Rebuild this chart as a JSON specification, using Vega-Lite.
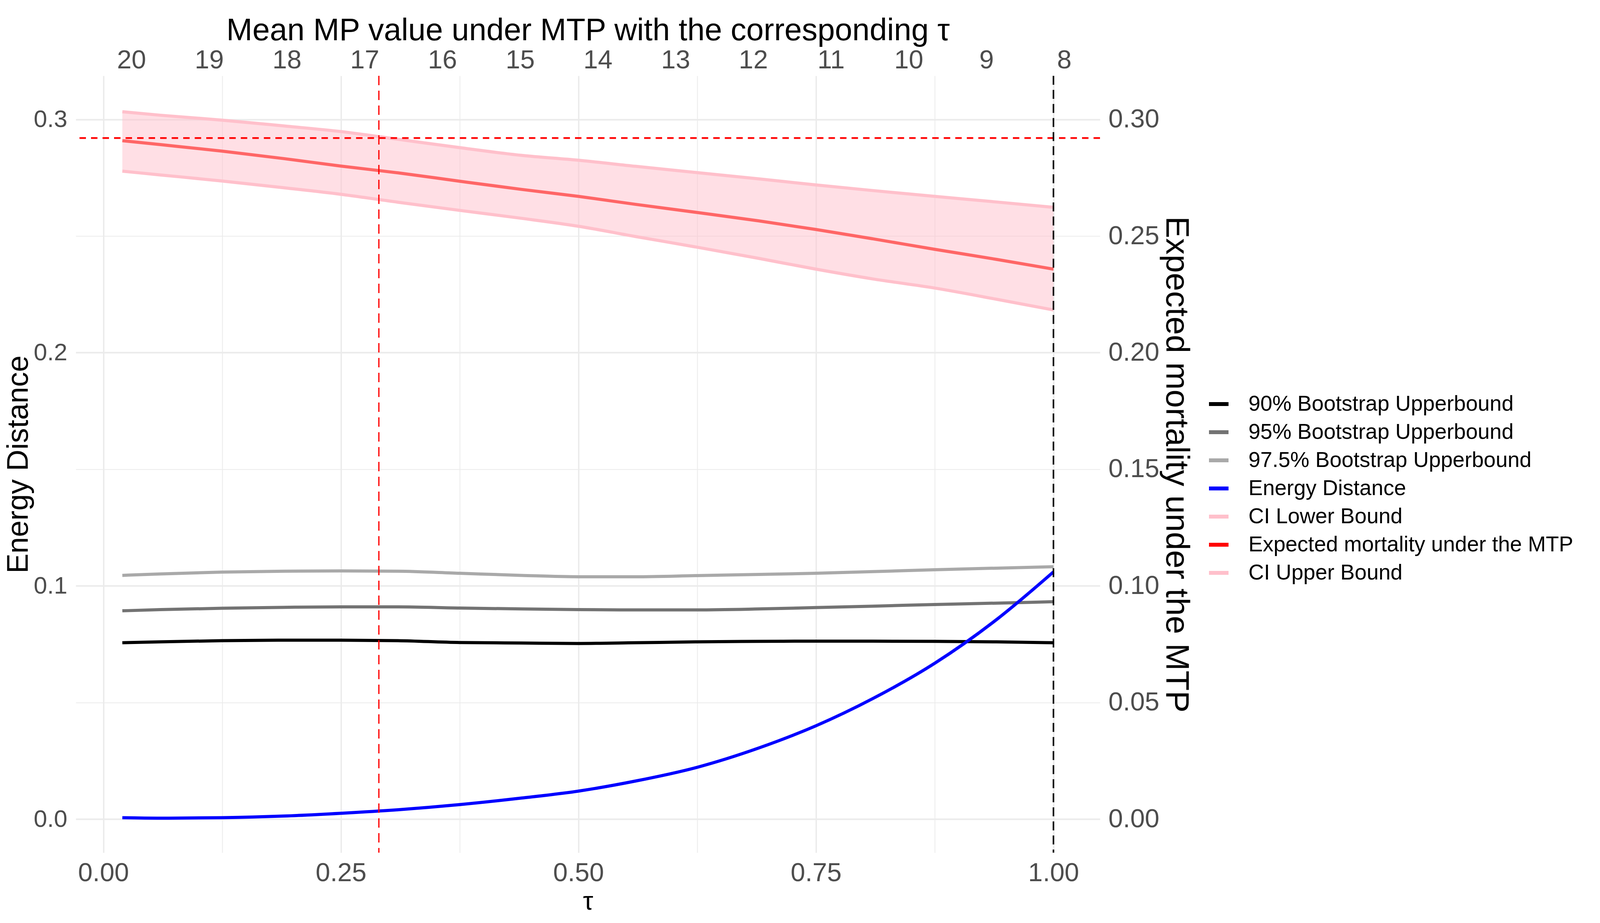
{
  "$schema": "https://vega.github.io/schema/vega-lite/v6.json",
  "width": 2622,
  "height": 1988,
  "autosize": {"type": "none"},
  "padding": {"left": 194, "top": 194, "right": 1280, "bottom": 180},
  "background": "white",
  "datasets": {
    "curves": [
      {"tau": 0.02, "s": "90% Bootstrap Upperbound", "v": 0.0756},
      {"tau": 0.06, "s": "90% Bootstrap Upperbound", "v": 0.0760},
      {"tau": 0.125, "s": "90% Bootstrap Upperbound", "v": 0.0765},
      {"tau": 0.19, "s": "90% Bootstrap Upperbound", "v": 0.0767},
      {"tau": 0.25, "s": "90% Bootstrap Upperbound", "v": 0.0767},
      {"tau": 0.31, "s": "90% Bootstrap Upperbound", "v": 0.0765},
      {"tau": 0.375, "s": "90% Bootstrap Upperbound", "v": 0.0757},
      {"tau": 0.44, "s": "90% Bootstrap Upperbound", "v": 0.0755},
      {"tau": 0.5, "s": "90% Bootstrap Upperbound", "v": 0.0753},
      {"tau": 0.56, "s": "90% Bootstrap Upperbound", "v": 0.0756},
      {"tau": 0.625, "s": "90% Bootstrap Upperbound", "v": 0.0760},
      {"tau": 0.69, "s": "90% Bootstrap Upperbound", "v": 0.0762},
      {"tau": 0.75, "s": "90% Bootstrap Upperbound", "v": 0.0763},
      {"tau": 0.81, "s": "90% Bootstrap Upperbound", "v": 0.0763},
      {"tau": 0.875, "s": "90% Bootstrap Upperbound", "v": 0.0762},
      {"tau": 0.94, "s": "90% Bootstrap Upperbound", "v": 0.0760},
      {"tau": 1.0, "s": "90% Bootstrap Upperbound", "v": 0.0756},
      {"tau": 0.02, "s": "95% Bootstrap Upperbound", "v": 0.0893},
      {"tau": 0.06, "s": "95% Bootstrap Upperbound", "v": 0.0898},
      {"tau": 0.125, "s": "95% Bootstrap Upperbound", "v": 0.0904},
      {"tau": 0.19, "s": "95% Bootstrap Upperbound", "v": 0.0908},
      {"tau": 0.25, "s": "95% Bootstrap Upperbound", "v": 0.0910},
      {"tau": 0.31, "s": "95% Bootstrap Upperbound", "v": 0.0910},
      {"tau": 0.375, "s": "95% Bootstrap Upperbound", "v": 0.0905},
      {"tau": 0.44, "s": "95% Bootstrap Upperbound", "v": 0.0901},
      {"tau": 0.5, "s": "95% Bootstrap Upperbound", "v": 0.0898},
      {"tau": 0.56, "s": "95% Bootstrap Upperbound", "v": 0.0897},
      {"tau": 0.625, "s": "95% Bootstrap Upperbound", "v": 0.0897},
      {"tau": 0.69, "s": "95% Bootstrap Upperbound", "v": 0.0901},
      {"tau": 0.75, "s": "95% Bootstrap Upperbound", "v": 0.0907},
      {"tau": 0.81, "s": "95% Bootstrap Upperbound", "v": 0.0913},
      {"tau": 0.875, "s": "95% Bootstrap Upperbound", "v": 0.0920},
      {"tau": 0.94, "s": "95% Bootstrap Upperbound", "v": 0.0926},
      {"tau": 1.0, "s": "95% Bootstrap Upperbound", "v": 0.0932},
      {"tau": 0.02, "s": "97.5% Bootstrap Upperbound", "v": 0.1045},
      {"tau": 0.06, "s": "97.5% Bootstrap Upperbound", "v": 0.1051},
      {"tau": 0.125, "s": "97.5% Bootstrap Upperbound", "v": 0.1059},
      {"tau": 0.19, "s": "97.5% Bootstrap Upperbound", "v": 0.1063},
      {"tau": 0.25, "s": "97.5% Bootstrap Upperbound", "v": 0.1064},
      {"tau": 0.31, "s": "97.5% Bootstrap Upperbound", "v": 0.1063},
      {"tau": 0.375, "s": "97.5% Bootstrap Upperbound", "v": 0.1054},
      {"tau": 0.44, "s": "97.5% Bootstrap Upperbound", "v": 0.1045},
      {"tau": 0.5, "s": "97.5% Bootstrap Upperbound", "v": 0.1039},
      {"tau": 0.56, "s": "97.5% Bootstrap Upperbound", "v": 0.1039},
      {"tau": 0.625, "s": "97.5% Bootstrap Upperbound", "v": 0.1044},
      {"tau": 0.69, "s": "97.5% Bootstrap Upperbound", "v": 0.1049},
      {"tau": 0.75, "s": "97.5% Bootstrap Upperbound", "v": 0.1054},
      {"tau": 0.81, "s": "97.5% Bootstrap Upperbound", "v": 0.1061},
      {"tau": 0.875, "s": "97.5% Bootstrap Upperbound", "v": 0.1069},
      {"tau": 0.94, "s": "97.5% Bootstrap Upperbound", "v": 0.1076},
      {"tau": 1.0, "s": "97.5% Bootstrap Upperbound", "v": 0.1082},
      {"tau": 0.02, "s": "Energy Distance", "v": 0.0006},
      {"tau": 0.06, "s": "Energy Distance", "v": 0.0004},
      {"tau": 0.125, "s": "Energy Distance", "v": 0.0006},
      {"tau": 0.19, "s": "Energy Distance", "v": 0.0013},
      {"tau": 0.25, "s": "Energy Distance", "v": 0.0025},
      {"tau": 0.31, "s": "Energy Distance", "v": 0.0040},
      {"tau": 0.375, "s": "Energy Distance", "v": 0.0062},
      {"tau": 0.44, "s": "Energy Distance", "v": 0.0090},
      {"tau": 0.5, "s": "Energy Distance", "v": 0.0120},
      {"tau": 0.56, "s": "Energy Distance", "v": 0.0163},
      {"tau": 0.625, "s": "Energy Distance", "v": 0.0222},
      {"tau": 0.69, "s": "Energy Distance", "v": 0.0305},
      {"tau": 0.75, "s": "Energy Distance", "v": 0.0400},
      {"tau": 0.81, "s": "Energy Distance", "v": 0.0517},
      {"tau": 0.875, "s": "Energy Distance", "v": 0.0668},
      {"tau": 0.94, "s": "Energy Distance", "v": 0.0855},
      {"tau": 1.0, "s": "Energy Distance", "v": 0.1060},
      {"tau": 0.02, "s": "CI Lower Bound", "v": 0.2778},
      {"tau": 0.06, "s": "CI Lower Bound", "v": 0.2762},
      {"tau": 0.125, "s": "CI Lower Bound", "v": 0.2736},
      {"tau": 0.19, "s": "CI Lower Bound", "v": 0.2707},
      {"tau": 0.25, "s": "CI Lower Bound", "v": 0.2679},
      {"tau": 0.31, "s": "CI Lower Bound", "v": 0.2645},
      {"tau": 0.375, "s": "CI Lower Bound", "v": 0.2610},
      {"tau": 0.44, "s": "CI Lower Bound", "v": 0.2576},
      {"tau": 0.5, "s": "CI Lower Bound", "v": 0.2542},
      {"tau": 0.56, "s": "CI Lower Bound", "v": 0.2498},
      {"tau": 0.625, "s": "CI Lower Bound", "v": 0.2452},
      {"tau": 0.69, "s": "CI Lower Bound", "v": 0.2404},
      {"tau": 0.75, "s": "CI Lower Bound", "v": 0.2358},
      {"tau": 0.81, "s": "CI Lower Bound", "v": 0.2316},
      {"tau": 0.875, "s": "CI Lower Bound", "v": 0.2277},
      {"tau": 0.94, "s": "CI Lower Bound", "v": 0.2229},
      {"tau": 1.0, "s": "CI Lower Bound", "v": 0.2183},
      {"tau": 0.02, "s": "Expected mortality under the MTP", "v": 0.2909},
      {"tau": 0.06, "s": "Expected mortality under the MTP", "v": 0.2892},
      {"tau": 0.125, "s": "Expected mortality under the MTP", "v": 0.2864},
      {"tau": 0.19, "s": "Expected mortality under the MTP", "v": 0.2832},
      {"tau": 0.25, "s": "Expected mortality under the MTP", "v": 0.2800},
      {"tau": 0.31, "s": "Expected mortality under the MTP", "v": 0.2771},
      {"tau": 0.375, "s": "Expected mortality under the MTP", "v": 0.2735},
      {"tau": 0.44, "s": "Expected mortality under the MTP", "v": 0.2700},
      {"tau": 0.5, "s": "Expected mortality under the MTP", "v": 0.2670},
      {"tau": 0.56, "s": "Expected mortality under the MTP", "v": 0.2636},
      {"tau": 0.625, "s": "Expected mortality under the MTP", "v": 0.2601},
      {"tau": 0.69, "s": "Expected mortality under the MTP", "v": 0.2565},
      {"tau": 0.75, "s": "Expected mortality under the MTP", "v": 0.2528},
      {"tau": 0.81, "s": "Expected mortality under the MTP", "v": 0.2488},
      {"tau": 0.875, "s": "Expected mortality under the MTP", "v": 0.2443},
      {"tau": 0.94, "s": "Expected mortality under the MTP", "v": 0.2400},
      {"tau": 1.0, "s": "Expected mortality under the MTP", "v": 0.2358},
      {"tau": 0.02, "s": "CI Upper Bound", "v": 0.3033},
      {"tau": 0.06, "s": "CI Upper Bound", "v": 0.3018},
      {"tau": 0.125, "s": "CI Upper Bound", "v": 0.2997},
      {"tau": 0.19, "s": "CI Upper Bound", "v": 0.2972},
      {"tau": 0.25, "s": "CI Upper Bound", "v": 0.2948},
      {"tau": 0.31, "s": "CI Upper Bound", "v": 0.2915},
      {"tau": 0.375, "s": "CI Upper Bound", "v": 0.2879},
      {"tau": 0.44, "s": "CI Upper Bound", "v": 0.2846},
      {"tau": 0.5, "s": "CI Upper Bound", "v": 0.2825},
      {"tau": 0.56, "s": "CI Upper Bound", "v": 0.2799},
      {"tau": 0.625, "s": "CI Upper Bound", "v": 0.2772},
      {"tau": 0.69, "s": "CI Upper Bound", "v": 0.2745},
      {"tau": 0.75, "s": "CI Upper Bound", "v": 0.2719},
      {"tau": 0.81, "s": "CI Upper Bound", "v": 0.2695},
      {"tau": 0.875, "s": "CI Upper Bound", "v": 0.2670},
      {"tau": 0.94, "s": "CI Upper Bound", "v": 0.2646},
      {"tau": 1.0, "s": "CI Upper Bound", "v": 0.2623}
    ]
  },
  "layer": [
    {
      "layer": [
        {
          "data": {"name": "curves"},
          "transform": [
            {"filter": {"field": "s", "oneOf": ["CI Lower Bound", "CI Upper Bound"]}},
            {"pivot": "s", "value": "v", "groupby": ["tau"]}
          ],
          "mark": {"type": "area", "color": "#FFC0CB", "opacity": 0.5, "interpolate": "monotone"},
          "encoding": {
            "x": {
              "field": "tau",
              "type": "quantitative",
              "title": "τ",
              "scale": {"domain": [-0.029, 1.049], "nice": false, "zero": false},
              "axis": {
                "orient": "bottom",
                "values": [0, 0.125, 0.25, 0.375, 0.5, 0.625, 0.75, 0.875, 1],
                "labelExpr": "abs(datum.value * 4 - round(datum.value * 4)) < 0.001 ? format(datum.value, '.2f') : ''",
                "grid": true,
                "gridWidth": {"condition": {"test": "abs(datum.value * 4 - round(datum.value * 4)) < 0.001", "value": 3.6}, "value": 2},
                "labelPadding": 19,
                "labelBaseline": "top",
                "titleFontSize": 66,
                "titleY": 145,
                "titleBaseline": "alphabetic"
              }
            },
            "y": {
              "field": "CI Lower Bound",
              "type": "quantitative",
              "title": "Energy Distance",
              "scale": {"domain": [-0.0144, 0.3187], "nice": false, "zero": false},
              "axis": {
                "orient": "left",
                "values": [0, 0.05, 0.1, 0.15, 0.2, 0.25, 0.3],
                "labelExpr": "abs(datum.value * 10 - round(datum.value * 10)) < 0.001 ? format(datum.value, '.1f') : ''",
                "grid": true,
                "gridWidth": {"condition": {"test": "abs(datum.value * 10 - round(datum.value * 10)) < 0.001", "value": 4}, "value": 2.2},
                "labelFontSize": 62,
                "labelPadding": 22,
                "titleFontSize": 76,
                "titleX": -124,
                "titleBaseline": "alphabetic"
              }
            },
            "y2": {"field": "CI Upper Bound"}
          }
        },
        {
          "data": {"name": "curves"},
          "transform": [
            {"filter": {"field": "s", "oneOf": ["90% Bootstrap Upperbound", "95% Bootstrap Upperbound", "97.5% Bootstrap Upperbound", "CI Lower Bound", "CI Upper Bound"]}}
          ],
          "mark": {"type": "line", "strokeWidth": 8, "interpolate": "monotone"},
          "encoding": {
            "x": {"field": "tau", "type": "quantitative", "title": "τ"},
            "y": {"field": "v", "type": "quantitative", "title": "Energy Distance"},
            "color": {
              "field": "s",
              "type": "nominal",
              "scale": {
                "domain": ["90% Bootstrap Upperbound", "95% Bootstrap Upperbound", "97.5% Bootstrap Upperbound", "Energy Distance", "CI Lower Bound", "Expected mortality under the MTP", "CI Upper Bound"],
                "range": ["#000000", "#737373", "#A9A9A9", "#0000FF", "#FFC0CB", "#FF0000", "#FFC0CB"]
              },
              "legend": {
                "title": null,
                "orient": "none",
                "legendX": 2896,
                "legendY": 810,
                "padding": 0,
                "labelFont": "Liberation Sans",
                "labelFontSize": 55,
                "labelColor": "#000000",
                "labelLimit": 0,
                "labelOffset": 46,
                "symbolType": "stroke",
                "symbolStrokeWidth": 10,
                "symbolSize": 2500,
                "rowPadding": 14
              }
            }
          }
        },
        {
          "data": {"name": "curves"},
          "transform": [{"filter": {"field": "s", "equal": "Energy Distance"}}],
          "mark": {"type": "line", "strokeWidth": 8, "interpolate": "monotone"},
          "encoding": {
            "x": {"field": "tau", "type": "quantitative", "title": "τ"},
            "y": {"field": "v", "type": "quantitative", "title": "Energy Distance"},
            "color": {"field": "s", "type": "nominal"}
          }
        },
        {
          "data": {"name": "curves"},
          "transform": [{"filter": {"field": "s", "equal": "Expected mortality under the MTP"}}],
          "mark": {"type": "line", "strokeWidth": 8, "color": "#FF6666", "interpolate": "monotone"},
          "encoding": {
            "x": {"field": "tau", "type": "quantitative", "title": "τ"},
            "y": {"field": "v", "type": "quantitative", "title": "Energy Distance"}
          }
        },
        {
          "data": {"values": [{"ref": "target"}]},
          "mark": {"type": "rule", "color": "#FF0000", "strokeWidth": 4.5, "strokeDash": [16.5, 13]},
          "encoding": {"y": {"datum": 0.292, "type": "quantitative", "title": "Energy Distance"}}
        },
        {
          "data": {"values": [{"ref": "chosen"}]},
          "mark": {"type": "rule", "color": "#FF0000", "strokeWidth": 3.2, "strokeDash": [24, 14]},
          "encoding": {"x": {"datum": 0.29, "type": "quantitative", "title": "τ"}}
        },
        {
          "data": {"values": [{"ref": "max"}]},
          "mark": {"type": "rule", "color": "#000000", "strokeWidth": 4, "strokeDash": [23, 13]},
          "encoding": {"x": {"datum": 1.0, "type": "quantitative", "title": "τ"}}
        }
      ]
    },
    {
      "data": {"values": [{"mp": 8}, {"mp": 20}]},
      "mark": {"type": "point", "opacity": 0},
      "encoding": {
        "x": {
          "field": "mp",
          "type": "quantitative",
          "scale": {"domain": [7.538, 20.715], "reverse": true, "nice": false, "zero": false},
          "axis": {
            "orient": "top",
            "values": [8, 9, 10, 11, 12, 13, 14, 15, 16, 17, 18, 19, 20],
            "format": "d",
            "grid": false,
            "title": "Mean MP value under MTP with the corresponding τ",
            "titleFontSize": 80,
            "labelPadding": 20,
            "labelBaseline": "alphabetic",
            "titleY": -92,
            "titleBaseline": "alphabetic"
          }
        }
      }
    },
    {
      "data": {"values": [{"em": 0}, {"em": 0.3}]},
      "mark": {"type": "point", "opacity": 0},
      "encoding": {
        "y": {
          "field": "em",
          "type": "quantitative",
          "scale": {"domain": [-0.0144, 0.3187], "nice": false, "zero": false},
          "axis": {
            "orient": "right",
            "values": [0, 0.05, 0.1, 0.15, 0.2, 0.25, 0.3],
            "format": ".2f",
            "grid": false,
            "title": "Expected mortality under the MTP",
            "labelPadding": 21,
            "labelAlign": "left",
            "titleX": 169,
            "titleAngle": 90,
            "titleBaseline": "alphabetic"
          }
        }
      }
    }
  ],
  "resolve": {"scale": {"x": "independent", "y": "independent"}},
  "config": {
    "view": {"stroke": null},
    "font": "Liberation Sans",
    "axis": {
      "domain": false,
      "ticks": false,
      "tickSize": 0,
      "labelFont": "Liberation Sans",
      "labelFontSize": 67,
      "labelColor": "#4D4D4D",
      "labelFlush": false,
      "labelOverlap": false,
      "labelBound": false,
      "titleFont": "Liberation Sans",
      "titleFontSize": 84,
      "titleFontWeight": "normal",
      "titleColor": "#000000",
      "gridColor": "#EBEBEB"
    }
  }
}
